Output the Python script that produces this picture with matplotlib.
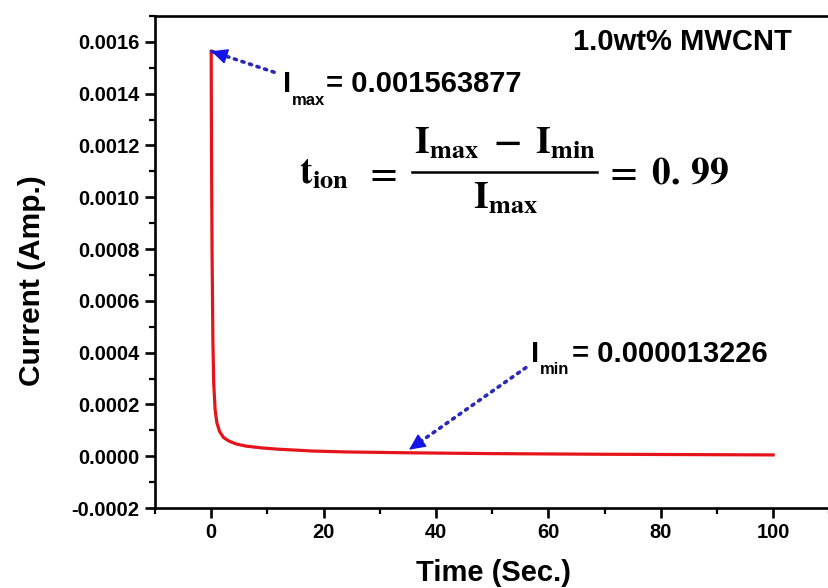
import numpy as np
import matplotlib
matplotlib.use("Agg")
import matplotlib.pyplot as plt
from matplotlib.lines import Line2D
from matplotlib.ticker import MultipleLocator, FormatStrFormatter

plt.rcParams['font.family'] = ['Liberation Sans', 'DejaVu Sans']
plt.rcParams['font.weight'] = 'bold'

# values
time_s = [0, 0.05, 0.15, 0.3, 0.45, 0.7, 1.0, 1.5, 2.2, 3.2, 4.5, 6.2,
          9, 12, 18, 24, 35, 50, 70, 100]
current_a = [0.001564, 0.00120, 0.00080, 0.00045, 0.00028, 0.00018,
             0.00013, 0.000095, 0.000072, 0.000058, 0.000047, 0.000039,
             0.000032, 0.000027, 0.000020, 0.0000165, 0.0000132,
             0.0000100, 0.0000075, 0.0000050]

i_max = 0.001563877
i_min = 0.000013226
sample = "1.0wt% MWCNT"

W, H = 829, 588
fig = plt.figure(figsize=(W / 100, H / 100), dpi=100)
ax = fig.add_axes([155 / W, 1 - 508 / H, (831 - 155) / W, (508 - 16) / H])


def px(x, y):
    # pixel position (from top-left) -> figure fraction
    return x / W, 1 - y / H


ax.plot(time_s, current_a, color='#e5141a', lw=2.3)

ax.set_xlim(-10, 110.3)
ax.set_ylim(-0.0002, 0.0017)
ax.xaxis.set_major_locator(MultipleLocator(20))
ax.xaxis.set_minor_locator(MultipleLocator(10))
ax.yaxis.set_major_locator(MultipleLocator(0.0002))
ax.yaxis.set_minor_locator(MultipleLocator(0.0001))
ax.yaxis.set_major_formatter(FormatStrFormatter('%.4f'))
ax.set_xticks([0, 20, 40, 60, 80, 100])

for s in ax.spines.values():
    s.set_linewidth(1.9)
ax.spines['right'].set_visible(False)
ax.tick_params(which='major', direction='out', length=7, width=1.9,
               labelsize=14.5, pad=4)
ax.tick_params(which='minor', direction='out', length=4, width=1.6)
for lab in ax.get_xticklabels() + ax.get_yticklabels():
    lab.set_fontweight('bold')

ax.set_xlabel('Time (Sec.)', fontsize=21, fontweight='bold', labelpad=12)
ax.set_ylabel('Current (Amp.)', fontsize=21.5, fontweight='bold')
ax.yaxis.set_label_coords((46 - 155) / 676, 1 - (281 - 16) / 492)


def dotted_arrow(tail, tip):
    ax.plot([tail[0], tip[0]], [tail[1], tip[1]], color='#2a2ab4', lw=2.6,
            ls=(0, (0.6, 1.6)), dash_capstyle='round')
    p0 = ax.transData.transform(tail)
    p1 = ax.transData.transform(tip)
    d = (p0 - p1) / np.hypot(*(p0 - p1)) * 14
    ax.annotate('', xy=tip, xytext=(d[0], d[1]), textcoords='offset pixels',
                arrowprops=dict(arrowstyle='-|>,head_length=0.85,head_width=0.4',
                                color='#1414e6', lw=1, mutation_scale=12,
                                shrinkA=0, shrinkB=0))


dotted_arrow((11.2, 0.001483), (0, i_max))
dotted_arrow((56.0, 0.000342), (35.2, 0.000025))

# I_max label
fig.text(*px(283, 92), 'I', fontsize=21, fontweight='bold', va='baseline')
fig.text(*px(292, 105), 'max', fontsize=12, fontweight='bold', va='baseline')
fig.text(*px(326, 92), '= %.9f' % i_max, fontsize=21, fontweight='bold',
         va='baseline')
# I_min label
fig.text(*px(531, 362), 'I', fontsize=21, fontweight='bold', va='baseline')
fig.text(*px(540, 374), 'min', fontsize=12, fontweight='bold', va='baseline')
fig.text(*px(572, 362), '= %.9f' % i_min, fontsize=21, fontweight='bold',
         va='baseline')

fig.text(*px(792, 50), sample, fontsize=21, fontweight='bold',
         ha='right', va='baseline')

# t_ion = (I_max - I_min) / I_max = 0.99, laid out piece by piece
mf = dict(fontsize=27, math_fontfamily='stix', va='baseline')
fig.text(*px(299, 183), r'$\mathbf{t_{ion}}$', **mf)
fig.text(*px(364, 183), r'$\mathbf{=}$', **mf)
fig.text(*px(505, 153), r'$\mathbf{I_{max}\;-\;I_{min}}$', ha='center', **mf)
fig.text(*px(505, 208), r'$\mathbf{I_{max}}$', ha='center', **mf)
fig.text(*px(604, 183), r'$\mathbf{=\;0.\,99}$', **mf)
fig.add_artist(Line2D([412 / W, 597 / W], [1 - 172 / H, 1 - 172 / H],
                      color='black', lw=1.8))

fig.savefig('out.png', dpi=100)
